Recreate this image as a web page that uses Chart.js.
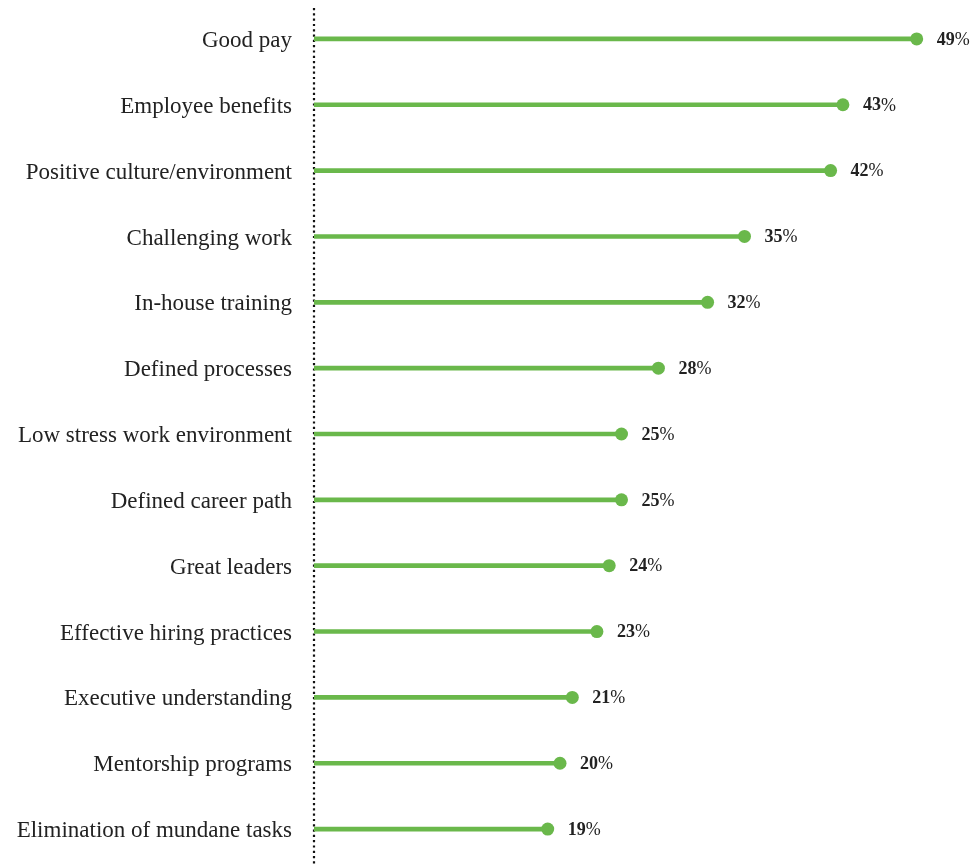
<!DOCTYPE html>
<html>
<head>
<meta charset="utf-8">
<title>What attracts people to a job</title>
<script src="https://cdn.jsdelivr.net/npm/chart.js@4/dist/chart.umd.min.js"></script>
<style>
  html, body { margin: 0; padding: 0; background: #fff; }
  #wrap { width: 977px; height: 864px; position: relative; }
</style>
</head>
<body>
<div id="wrap"><canvas id="lollipop"></canvas></div>
<script>
// answers, top to bottom
const factors = [
  'Good pay',
  'Employee benefits',
  'Positive culture/environment',
  'Challenging work',
  'In-house training',
  'Defined processes',
  'Low stress work environment',
  'Defined career path',
  'Great leaders',
  'Effective hiring practices',
  'Executive understanding',
  'Mentorship programs',
  'Elimination of mundane tasks'
];
// share of respondents, percent
const shares = [49, 43, 42, 35, 32, 28, 25, 25, 24, 23, 21, 20, 19];

const GREEN = '#6ab84b';
const INK = '#222222';
const SERIF = '"Liberation Serif", "Times New Roman", serif';

// dotted baseline along the left edge of the plot
const dottedAxis = {
  id: 'dottedAxis',
  beforeDatasetsDraw(chart) {
    const { ctx, chartArea } = chart;
    const x = chartArea.left;
    ctx.save();
    ctx.strokeStyle = '#111';
    ctx.lineWidth = 2.2;
    ctx.setLineDash([2.2, 3.1]);
    ctx.beginPath();
    ctx.moveTo(x, 8);
    ctx.lineTo(x, chart.height);
    ctx.stroke();
    ctx.restore();
  }
};

// "49%" with the number in bold, the sign in regular weight
const valueLabels = {
  id: 'valueLabels',
  afterDatasetsDraw(chart) {
    const { ctx, scales: { x, y } } = chart;
    ctx.save();
    ctx.fillStyle = INK;
    ctx.textBaseline = 'middle';
    shares.forEach((v, i) => {
      const px = x.getPixelForValue(v) + 20;
      const py = y.getPixelForValue(i) + 1;
      ctx.font = 'bold 18px ' + SERIF;
      const num = String(v);
      ctx.fillText(num, px, py);
      const w = ctx.measureText(num).width;
      ctx.font = '18px ' + SERIF;
      ctx.fillText('%', px + w, py);
    });
    ctx.restore();
  }
};

new Chart(document.getElementById('lollipop'), {
  data: {
    labels: factors,
    datasets: [
      {
        type: 'bar',
        data: shares,
        backgroundColor: GREEN,
        barThickness: 4,
        borderWidth: 0
      },
      {
        type: 'line',
        data: shares,
        showLine: false,
        pointRadius: 6.5,
        pointHoverRadius: 6.5,
        pointBackgroundColor: GREEN,
        pointBorderWidth: 0
      }
    ]
  },
  options: {
    indexAxis: 'y',
    responsive: true,
    maintainAspectRatio: false,
    animation: false,
    layout: { autoPadding: false, padding: { top: 6, bottom: 2, right: 48, left: 0 } },
    plugins: {
      legend: { display: false },
      tooltip: { enabled: false }
    },
    scales: {
      x: {
        display: false,
        min: 0,
        max: 50
      },
      y: {
        afterFit(scale) {
          scale.width = 314;
          scale.paddingTop = 0;
          scale.paddingBottom = 0;
        },
        grid: { display: false, drawTicks: false },
        border: { display: false },
        ticks: {
          color: INK,
          padding: 22,
          labelOffset: 2,
          font: { family: SERIF, size: 23 }
        }
      }
    }
  },
  plugins: [dottedAxis, valueLabels]
});
</script>
</body>
</html>
